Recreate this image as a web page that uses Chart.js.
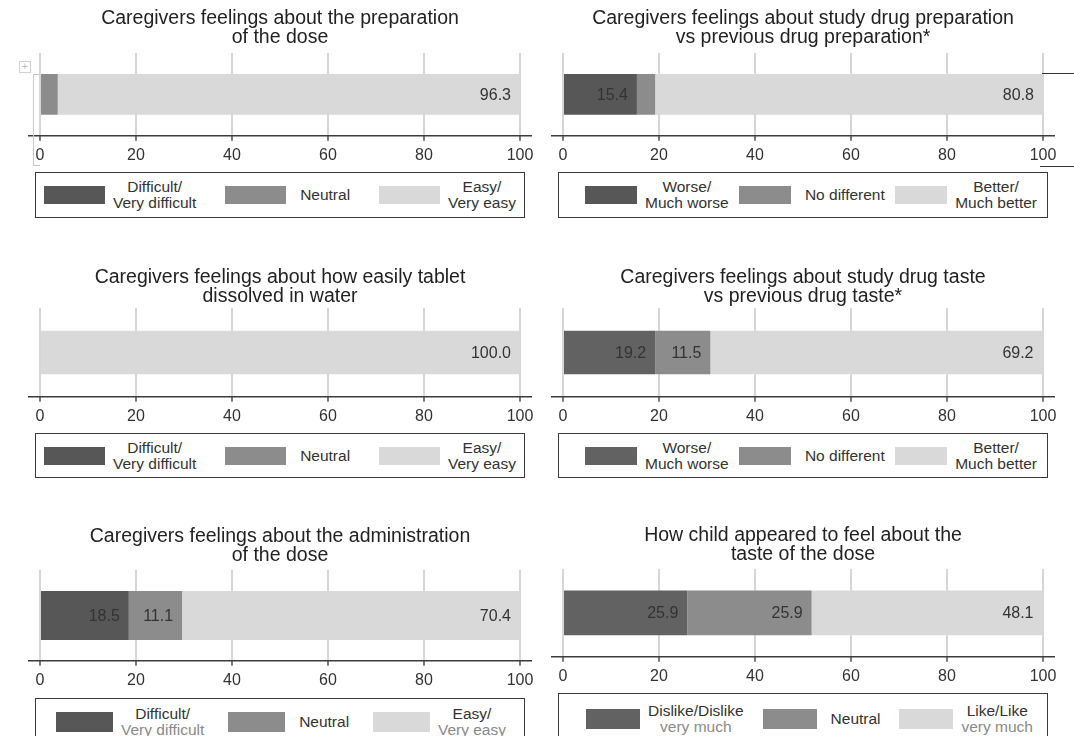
<!DOCTYPE html>
<html>
<head>
<meta charset="utf-8">
<script src="https://cdn.jsdelivr.net/npm/chart.js@4.4.1/dist/chart.umd.min.js"></script>
<style>
  html, body { margin: 0; padding: 0; background: #fff; }
  body { width: 1074px; height: 736px; overflow: hidden; position: relative;
         font-family: "Liberation Sans", Arial, sans-serif; color: #333; }
  canvas { position: absolute; }
  .legend { position: absolute; box-sizing: border-box; border: 1.5px solid #3a3a3a;
            display: flex; align-items: center; justify-content: space-between; background: #fff; }
  .item { display: flex; align-items: center; }
  .sw { height: 18px; }
  .lab { font-size: 15.5px; line-height: 16px; text-align: center; color: #333; white-space: nowrap; }
  .faded .l2 { color: #8a8a8a; }
  .art { position: absolute; }
</style>
</head>
<body>
<script>
/* ── Datos ── */
const titles = [
  ["Caregivers feelings about the preparation", "of the dose"],
  ["Caregivers feelings about study drug preparation", "vs previous drug preparation*"],
  ["Caregivers feelings about how easily tablet", "dissolved in water"],
  ["Caregivers feelings about study drug taste", "vs previous drug taste*"],
  ["Caregivers feelings about the administration", "of the dose"],
  ["How child appeared to feel about the", "taste of the dose"],
];
const easeLabels    = [["Difficult/", "Very difficult"], ["Neutral"], ["Easy/", "Very easy"]];
const compareLabels = [["Worse/", "Much worse"], ["No different"], ["Better/", "Much better"]];
const likeLabels    = [["Dislike/Dislike", "very much"], ["Neutral"], ["Like/Like", "very much"]];
const panelLegends  = [easeLabels, compareLabels, easeLabels, compareLabels, easeLabels, likeLabels];

const lowValues  = [0,    15.4, 0,     19.2, 18.5, 25.9];
const midValues  = [3.7,  3.8,  0,     11.5, 11.1, 25.9];
const highValues = [96.3, 80.8, 100.0, 69.2, 70.4, 48.1];
const xTicks = [0, 20, 40, 60, 80, 100];

/* ── Posiciones y estilos ── */
const FONT = '"Liberation Sans", Arial, sans-serif';
const shades = { mid: "#8c8c8c", light: "#d9d9d9" };
const layout = [
  { x: 0,   gridTop: 53,  axisY: 136, bar: 0.49, tPad: 9.5,  legTop: 172, legH: 46, legPad: "0 8px",         sw: 61, dark: "#575757" },
  { x: 523, gridTop: 53,  axisY: 136, bar: 0.49, tPad: 9.5,  legTop: 172, legH: 46, legPad: "0 10px 0 26px", sw: 52, dark: "#575757" },
  { x: 0,   gridTop: 308, axisY: 397, bar: 0.49, tPad: 13,   legTop: 433, legH: 45, legPad: "0 8px",         sw: 61, dark: "#575757" },
  { x: 523, gridTop: 308, axisY: 397, bar: 0.49, tPad: 13,   legTop: 433, legH: 45, legPad: "0 10px 0 26px", sw: 52, dark: "#626262" },
  { x: 0,   gridTop: 570, axisY: 661, bar: 0.54, tPad: 10.5, legTop: 698, legH: 60, legPad: "0 18px 0 20px", sw: 57, dark: "#575757", itemTop: 7 },
  { x: 523, gridTop: 569, axisY: 657, bar: 0.51, tPad: 10.5, legTop: 693, legH: 60, legPad: "0 14px 0 27px", sw: 54, dark: "#626262", itemTop: 9 },
];
const AXIS_H = 35.2;   // tickLength + altura de etiqueta + padding*2
const TITLE_H = 53;
const TITLE_SIZE = 19.5, TITLE_LH = 0.975;

/* ── Plugins ── */
const axisLine = {
  id: "axisLine",
  afterDatasetsDraw(chart) {
    const { ctx, chartArea: a } = chart;
    ctx.save();
    ctx.strokeStyle = "#3c3c3c";
    ctx.lineWidth = 1.5;
    ctx.beginPath();
    ctx.moveTo(a.left - 12, a.bottom);
    ctx.lineTo(a.right + 12, a.bottom);
    ctx.stroke();
    ctx.restore();
  },
};

const valueLabels = {
  id: "valueLabels",
  afterDatasetsDraw(chart) {
    const { ctx } = chart;
    ctx.save();
    ctx.font = "16px " + FONT;
    ctx.fillStyle = "#333";
    ctx.textAlign = "right";
    ctx.textBaseline = "middle";
    chart.data.datasets.forEach((ds, i) => {
      chart.getDatasetMeta(i).data.forEach((bar, j) => {
        const v = ds.data[j];
        if (v >= 10) ctx.fillText(v.toFixed(1), bar.x - 9, bar.y + 1);
      });
    });
    ctx.restore();
  },
};

/* ── Paneles ── */
function crearPanel(i) {
  const L = layout[i];
  const top = L.gridTop - TITLE_H;
  const h = Math.round(L.axisY - top + AXIS_H);
  const w = 540;

  const cv = document.createElement("canvas");
  cv.width = w; cv.height = h;
  cv.style.left = L.x + "px"; cv.style.top = top + "px";
  cv.style.width = w + "px"; cv.style.height = h + "px";
  document.body.appendChild(cv);

  const colors = [L.dark, shades.mid, shades.light];
  const series = [lowValues[i], midValues[i], highValues[i]];
  const titleLine = TITLE_SIZE * TITLE_LH;

  new Chart(cv.getContext("2d"), {
    type: "bar",
    data: {
      labels: [""],
      datasets: series.map((v, k) => ({
        data: [v],
        backgroundColor: colors[k],
        borderWidth: 0,
        barPercentage: L.bar,
        categoryPercentage: 1,
      })),
    },
    options: {
      indexAxis: "y",
      animation: false,
      responsive: false,
      devicePixelRatio: 1,
      layout: { padding: { left: 40, right: 20, top: 0, bottom: 0 } },
      plugins: {
        legend: { display: false },
        tooltip: { enabled: false },
        title: {
          display: true,
          text: titles[i],
          color: "#222",
          font: { family: FONT, size: TITLE_SIZE, weight: "normal", lineHeight: TITLE_LH },
          padding: { top: L.tPad, bottom: TITLE_H - L.tPad - 2 * titleLine },
        },
      },
      scales: {
        x: {
          type: "linear", stacked: true, min: 0, max: 100,
          afterBuildTicks: s => { s.ticks = xTicks.map(v => ({ value: v })); },
          grid: { color: "#d6d6d6", lineWidth: 2, tickColor: "#333", tickLength: 5, tickWidth: 1.3 },
          border: { display: false },
          ticks: { color: "#333", padding: 5.5, font: { family: FONT, size: 16 } },
        },
        y: { type: "category", stacked: true, display: false },
      },
    },
    plugins: [axisLine, valueLabels],
  });

  /* Leyenda */
  const faded = L.itemTop !== undefined;
  const leg = document.createElement("div");
  leg.className = "legend" + (faded ? " faded" : "");
  leg.style.left = (L.x + 35) + "px";
  leg.style.top = L.legTop + "px";
  leg.style.width = "490px";
  leg.style.height = L.legH + "px";
  leg.style.padding = L.legPad;
  if (faded) leg.style.alignItems = "flex-start";
  panelLegends[i].forEach((lines, k) => {
    const it = document.createElement("div");
    it.className = "item";
    if (faded) { it.style.marginTop = L.itemTop + "px"; it.style.height = "32px"; }
    const sw = document.createElement("div");
    sw.className = "sw";
    sw.style.width = L.sw + "px";
    sw.style.background = colors[k];
    if (faded) sw.style.height = "20px";
    const lab = document.createElement("div");
    lab.className = "lab";
    lab.style.marginLeft = (k === 1 ? 14 : 8) + "px";
    lab.innerHTML = lines.map((t, n) => `<div class="l${n + 1}">${t}</div>`).join("");
    it.appendChild(sw);
    it.appendChild(lab);
    leg.appendChild(it);
  });
  document.body.appendChild(leg);
}

for (let i = 0; i < titles.length; i++) crearPanel(i);

/* ── Restos del documento original ── */
function linea(x, y, w, h, c) {
  const d = document.createElement("div");
  d.className = "art";
  Object.assign(d.style, { left: x + "px", top: y + "px", width: w + "px", height: h + "px", background: c });
  document.body.appendChild(d);
}
linea(33, 74, 1, 91, "#c8c8c8");
linea(33, 74, 7, 1, "#c8c8c8");
linea(33, 165, 7, 1, "#c8c8c8");
linea(1042, 73, 32, 1, "#333");
linea(1040, 166, 34, 1, "#333");
const mover = document.createElement("div");
mover.className = "art";
Object.assign(mover.style, { left: "19px", top: "61px", width: "10px", height: "10px",
  border: "1px solid #d0d0d0", fontSize: "10px", lineHeight: "10px", textAlign: "center", color: "#bbb" });
mover.textContent = "+";
document.body.appendChild(mover);
</script>
</body>
</html>
